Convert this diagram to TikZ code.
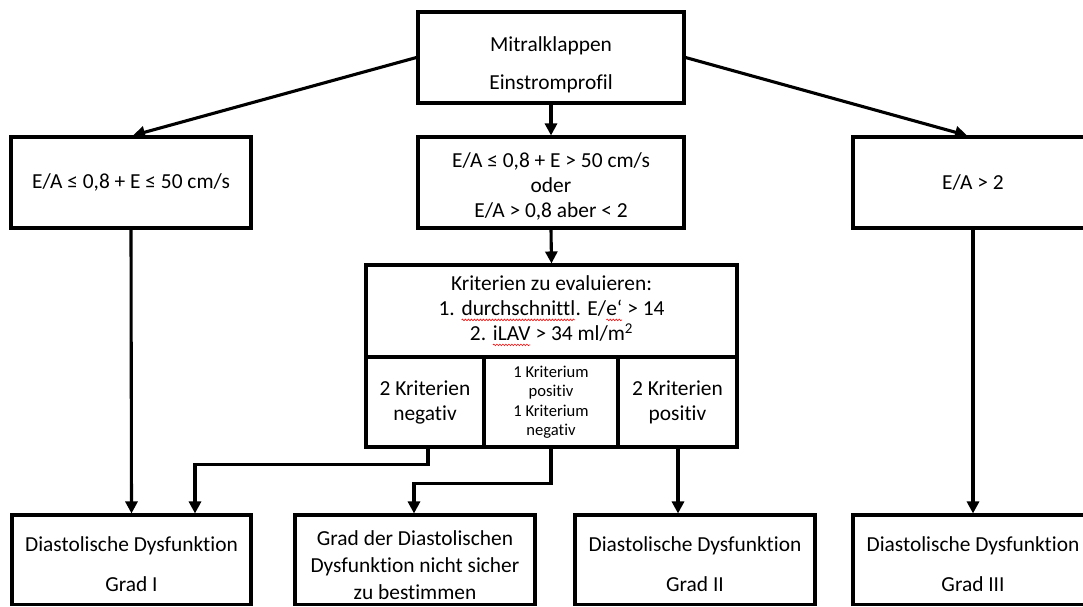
\documentclass[tikz,border=0pt]{standalone}
\usepackage{fontspec}
\setmainfont{Carlito}[Ligatures={NoCommon}]
\usetikzlibrary{arrows.meta,decorations.pathmorphing}
\newcommand\redsquig[1]{\tikz[baseline=(sq.base),x=1pt,y=1pt]{\node[inner sep=0pt,outer sep=0pt,minimum width=0pt,minimum height=0pt,draw=none,align=left,anchor=base,line width=0.4pt](sq){#1};\draw[red, line width=0.6pt, decorate, decoration={snake,amplitude=0.8pt,segment length=3pt}] ([yshift=-4pt]sq.base west) -- ([yshift=-4pt]sq.base east);}}
\begin{document}
\begin{tikzpicture}[x=1pt,y=-1pt,
  box/.style={draw, line width=3.1pt, inner sep=0pt, align=center},
  big/.style={font=\fontsize{21.4}{38}\selectfont},
  mid/.style={font=\fontsize{21.4}{25}\selectfont},
  small/.style={font=\fontsize{16.6}{19.5}\selectfont},
  arr/.style={line width=3.1pt, -{Triangle[length=12pt,width=12pt]}}]
\useasboundingbox (0,0) rectangle (1083,606);

% first row
\node[box, big, minimum width=266pt, minimum height=91pt] (top) at (551,57.5)
  {\rule{0pt}{28.7pt}Mitralklappen\\Einstromprofil};
\node[box, mid, minimum width=240pt, minimum height=91pt] (left1) at (131,182.5)
  {E/A ≤ 0,8 + E ≤ 50 cm/s};
\node[box, mid, minimum width=266pt, minimum height=91pt] (mid1) at (551,182.5)
  {\rule{0pt}{22pt}E/A ≤ 0,8 + E > 50 cm/s\\oder\\E/A > 0,8 aber < 2};
\node[box, mid, minimum width=240pt, minimum height=91pt] (right1) at (973,182.5)
  {E/A > 2};

% criteria box
\node[box, mid, minimum width=371pt, minimum height=92pt] (krit) at (551.5,311)
  {Kriterien zu evaluieren:\\1. \redsquig{durchschnittl}. E/\redsquig{e‘} > 14\\2. \redsquig{iLAV} > 34 ml/m\textsuperscript{2}};
\node[box, mid, minimum width=118pt, minimum height=90pt] (subA) at (425,402)
  {2 Kriterien\\negativ};
\node[box, small, minimum width=134pt, minimum height=90pt] (subB) at (551,402)
  {1 Kriterium\\positiv\\1 Kriterium\\negativ};
\node[box, mid, minimum width=119pt, minimum height=90pt] (subC) at (677.5,402)
  {2 Kriterien\\positiv};

% bottom row
\node[box, font=\fontsize{21.4}{40}\selectfont, minimum width=239pt, minimum height=89.5pt] (B1) at (131.5,559.75)
  {\rule{0pt}{24.5pt}Diastolische Dysfunktion\\Grad I};
\node[box, font=\fontsize{21.4}{27}\selectfont, minimum width=240pt, minimum height=89.5pt] (B2) at (415,559.75)
  {\rule{0pt}{26.5pt}Grad der Diastolischen\\Dysfunktion nicht sicher\\zu bestimmen};
\node[box, font=\fontsize{21.4}{40}\selectfont, minimum width=240pt, minimum height=89.5pt] (B3) at (695,559.75)
  {\rule{0pt}{24.5pt}Diastolische Dysfunktion\\Grad II};
\node[box, font=\fontsize{21.4}{40}\selectfont, minimum width=240pt, minimum height=89.5pt] (B4) at (973,559.75)
  {\rule{0pt}{24.5pt}Diastolische Dysfunktion\\Grad III};

% connectors
\draw[arr] (top.west) -- ([xshift=2pt]left1.north);
\draw[arr] (top.east) -- ([xshift=-6pt]right1.north);
\draw[arr] (top.south) -- (mid1.north);
\draw[arr] (mid1.south) -- (krit.north);
\draw[arr] (left1.south) -- (B1.north);
\draw[arr] (right1.south) -- (B4.north);
\draw[arr] ([xshift=3pt]subA.south) -- ++(0,16) -| ([xshift=63.5pt]B1.north);
\draw[arr] (subB.south) -- ++(0,35) -| ([xshift=-1pt]B2.north);
\draw[arr] ([xshift=0.5pt]subC.south) -- ([xshift=0.5pt]subC.south |- B3.north);
\end{tikzpicture}
\end{document}
